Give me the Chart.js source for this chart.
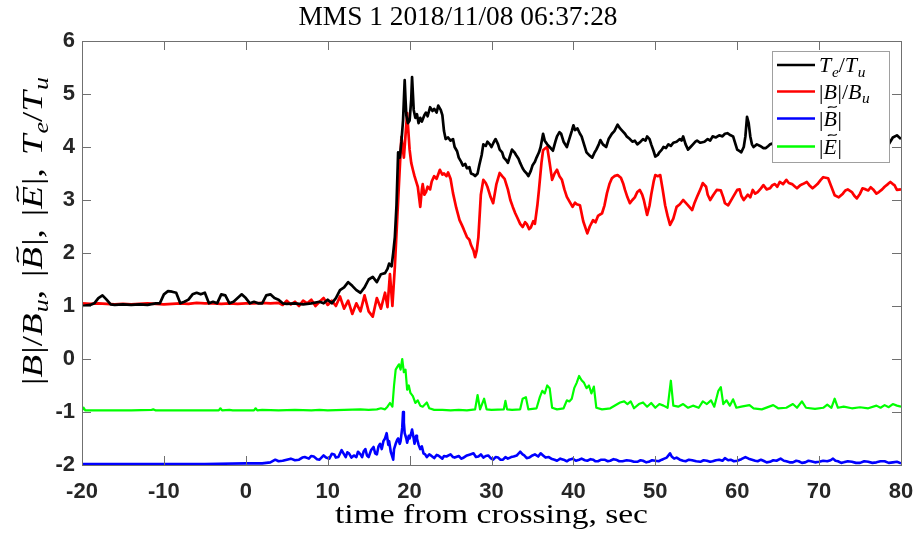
<!DOCTYPE html>
<html>
<head>
<meta charset="utf-8">
<script src="https://cdn.jsdelivr.net/npm/chart.js@4/dist/chart.umd.min.js"></script>
<style>
  html, body { margin: 0; padding: 0; background: #fff; }
  #wrap { width: 916px; height: 539px; }
</style>
</head>
<body>
<div id="wrap"><canvas id="c" width="916" height="539"></canvas></div>
<script>
// ---- data: [time from crossing (s), value] ----
const teSamples = [
  [-20,1.0],[-19,1.02],[-18.5,1.05],[-18,1.15],[-17.5,1.2],[-17,1.12],[-16.5,1.03],[-16,1.02],[-15,1.03],[-14,1.02],
  [-13,1.03],[-12,1.02],[-11,1.05],[-10.5,1.05],[-10,1.22],[-9.5,1.28],[-9,1.27],[-8.5,1.25],[-8,1.05],[-7.5,1.08],
  [-7,1.12],[-6.5,1.22],[-6,1.25],[-5.5,1.22],[-5,1.25],[-4.5,1.05],[-4,1.08],[-3.5,1.05],[-3,1.22],[-2.5,1.2],
  [-2,1.05],[-1.5,1.08],[-1,1.15],[-0.5,1.22],[0,1.15],[0.5,1.05],[1,1.08],[1.5,1.05],[2,1.05],[2.5,1.2],
  [3,1.22],[3.5,1.15],[4,1.12],[4.5,1.05],[5,1.04],[6,1.05],[7,1.03],[8,1.05],[9,1.08],[9.5,1.05],
  [10,1.12],[10.5,1.05],[11,1.15],[11.5,1.3],[12,1.35],[12.5,1.45],[13,1.38],[13.5,1.3],[14,1.25],[14.5,1.35],
  [15,1.5],[15.5,1.55],[16,1.45],[16.5,1.6],[17,1.62],[17.3,1.7],[17.5,1.8],[17.8,1.75],[18,2.0],[18.2,2.3],
  [18.4,2.9],[18.6,3.9],[18.8,3.8],[19.0,4.1],[19.2,4.5],[19.4,5.26],[19.5,4.9],[19.6,4.6],[19.8,4.45],[20.0,4.5],
  [20.2,4.9],[20.3,5.32],[20.5,4.7],[20.7,4.55],[20.9,4.62],[21.1,4.45],[21.3,4.55],[21.5,4.48],[21.8,4.6],[22,4.65],
  [22.2,4.58],[22.5,4.75],[22.8,4.68],[23,4.72],[23.3,4.65],[23.5,4.78],[23.8,4.7],[24,4.6],[24.2,4.3],[24.4,4.15],
  [24.7,4.18],[25,4.12],[25.3,4.15],[25.5,4.0],[25.8,3.92],[26,3.8],[26.3,3.72],[26.5,3.65],[26.8,3.68],[27,3.6],
  [27.3,3.62],[27.5,3.5],[27.8,3.48],[28,3.45],[28.3,3.5],[28.5,3.65],[28.8,3.85],[29,4.05],[29.3,4.02],[29.5,4.1],
  [29.8,4.05],[30,4.0],[30.3,4.1],[30.5,4.15],[30.8,4.05],[31,3.95],[31.3,3.9],[31.5,3.8],[31.8,3.75],[32,3.7],
  [32.3,3.85],[32.5,3.95],[32.8,3.9],[33,3.85],[33.3,3.78],[33.5,3.7],[33.8,3.6],[34,3.55],[34.3,3.5],[34.5,3.45],
  [34.8,3.55],[35,3.65],[35.3,3.72],[35.5,3.8],[35.8,3.9],[36,4.0],[36.3,4.25],[36.5,4.12],[36.8,4.05],[37.1,4.0],
  [37.5,3.93],[37.8,4.1],[38,4.2],[38.3,4.28],[38.5,4.25],[38.8,4.1],[39.2,4.0],[39.4,4.1],[39.6,4.2],[39.8,4.3],
  [40,4.41],[40.2,4.32],[40.5,4.35],[40.8,4.25],[41,4.2],[41.3,4.05],[41.6,3.9],[41.9,3.85],[42.3,3.8],[42.6,3.9],
  [42.8,3.95],[43.1,4.05],[43.3,4.13],[43.6,4.05],[44,4.0],[44.3,4.15],[44.7,4.25],[45,4.3],[45.4,4.42],[45.7,4.35],
  [46,4.3],[46.3,4.25],[46.5,4.2],[46.9,4.15],[47.2,4.1],[47.5,4.12],[47.8,4.05],[48.2,4.1],[48.5,4.15],[48.8,4.12],
  [49,4.2],[49.3,4.15],[49.5,4.05],[49.8,3.92],[50,3.82],[50.3,3.85],[50.5,3.9],[50.8,3.95],[51,4.0],[51.3,3.98],
  [51.6,4.05],[51.9,4.02],[52.2,4.08],[52.6,4.1],[53,4.15],[53.2,4.12],[53.4,4.2],[53.7,4.05],[54,3.95],[54.3,4.0],
  [54.6,4.05],[54.9,4.1],[55.1,4.12],[55.5,4.08],[56,4.1],[56.4,4.15],[56.7,4.12],[57,4.2],[57.4,4.18],[57.8,4.22],
  [58.2,4.2],[58.5,4.25],[58.8,4.26],[59.2,4.22],[59.5,4.2],[59.8,4.05],[60,3.95],[60.3,3.92],[60.5,3.9],[60.8,4.0],
  [61,4.2],[61.2,4.57],[61.4,4.45],[61.6,4.2],[61.8,4.05],[62,4.0],[62.4,4.05],[62.8,4.02],[63.2,3.98],[63.5,3.98],
  [63.8,4.02],[64,4.05],[65,4.1],[66.5,4.2],[68,4.15],[69.5,4.25],[71,4.2],[72.5,4.1],[74,4.2],[75.5,4.15],
  [77,4.1],[78.5,4.05],[79,4.18],[79.5,4.22],[80,4.15]
];
const bSamples = [
  [-20,1.05],[-19,1.04],[-18,1.05],[-17,1.04],[-16,1.03],[-15,1.04],[-14,1.03],[-13,1.04],[-12,1.05],[-11,1.04],
  [-10,1.03],[-9,1.04],[-8,1.05],[-7,1.04],[-6,1.06],[-5,1.05],[-4,1.05],[-3,1.04],[-2,1.05],[-1,1.04],
  [0,1.05],[1,1.05],[2,1.06],[3,1.05],[4,1.06],[4.5,1.02],[5,1.1],[5.5,1.03],[6,1.08],[6.5,1.0],
  [7,1.1],[7.5,1.05],[8,1.12],[8.5,1.0],[9,1.08],[9.5,1.15],[10,1.02],[10.5,1.1],[11,1.0],[11.5,1.18],
  [12,0.95],[12.5,1.1],[13,0.85],[13.5,1.05],[14,0.9],[14.5,1.2],[15,0.9],[15.5,0.8],[16,1.15],[16.5,0.95],
  [17,1.25],[17.3,0.98],[17.6,1.6],[17.9,1.0],[18.2,1.74],[18.5,2.68],[18.8,3.6],[19.0,4.19],[19.3,3.8],[19.7,4.64],
  [20.0,3.95],[20.2,3.7],[20.4,3.57],[20.6,3.45],[20.9,3.3],[21.0,3.25],[21.2,3.0],[21.3,2.87],[21.5,3.2],[21.6,3.3],
  [21.8,3.1],[22.0,3.15],[22.2,3.25],[22.5,3.2],[22.7,3.35],[23,3.45],[23.3,3.4],[23.7,3.57],[24,3.48],[24.2,3.5],
  [24.5,3.45],[24.7,3.52],[25,3.4],[25.3,3.13],[25.7,2.85],[26.1,2.62],[26.4,2.52],[26.6,2.45],[27,2.3],[27.3,2.25],
  [27.5,2.15],[27.8,2.05],[28,1.92],[28.2,2.05],[28.4,2.3],[28.7,3.1],[29,3.38],[29.3,3.32],[29.5,3.25],[29.9,3.05],
  [30.2,2.94],[30.6,3.3],[31,3.51],[31.3,3.45],[31.6,3.4],[32,3.2],[32.3,3.0],[32.6,2.87],[32.9,2.75],[33.2,2.65],
  [33.5,2.55],[33.8,2.49],[34.1,2.58],[34.3,2.55],[34.6,2.45],[34.8,2.48],[35.1,2.6],[35.3,2.55],[35.6,2.9],[35.8,3.2],
  [36.1,3.7],[36.3,3.94],[36.6,3.98],[36.8,4.0],[37.1,3.7],[37.4,3.38],[37.7,3.5],[38,3.57],[38.3,3.45],[38.6,3.38],
  [38.9,3.2],[39.2,3.06],[39.6,2.95],[39.9,2.87],[40.2,2.95],[40.4,2.92],[40.8,2.9],[41.2,2.6],[41.7,2.37],[42,2.5],
  [42.4,2.62],[42.7,2.58],[43,2.7],[43.5,2.75],[43.8,2.9],[44.1,3.13],[44.4,3.3],[44.7,3.41],[45,3.45],[45.4,3.47],
  [45.8,3.42],[46.1,3.3],[46.3,3.19],[46.6,3.05],[46.9,2.94],[47.2,3.0],[47.5,3.05],[47.8,3.15],[48.1,3.19],[48.4,3.1],
  [48.6,3.0],[49,2.72],[49.3,2.9],[49.5,3.1],[49.8,3.35],[50,3.47],[50.3,3.45],[50.6,3.47],[50.9,3.2],[51.2,2.9],
  [51.5,2.7],[51.8,2.53],[52.2,2.65],[52.6,2.87],[53,2.92],[53.4,3.0],[53.7,2.95],[54,2.9],[54.5,2.81],[54.8,2.95],
  [55.1,3.06],[55.5,3.2],[55.8,3.32],[56.2,3.25],[56.4,3.1],[56.7,3.0],[57.1,3.1],[57.5,3.19],[58,3.18],[58.3,3.05],
  [58.5,2.94],[58.9,2.9],[59.2,2.98],[59.5,3.06],[60,3.19],[60.3,3.2],[60.5,3.08],[60.8,3.0],[61.3,3.1],[61.6,3.05],
  [61.9,3.19],[62.2,3.12],[62.5,3.15],[62.9,3.22],[63.2,3.28],[63.6,3.2],[64,3.22],[64.3,3.28],[64.6,3.3],[64.9,3.25],
  [65.2,3.34],[65.6,3.3],[66,3.38],[66.3,3.32],[66.7,3.3],[67,3.26],[67.3,3.22],[67.7,3.28],[68,3.3],[68.5,3.34],
  [68.8,3.28],[69.2,3.22],[69.5,3.26],[69.8,3.3],[70.2,3.38],[70.5,3.43],[71.1,3.41],[71.5,3.25],[71.9,3.09],[72.4,3.05],
  [72.9,3.12],[73.2,3.18],[73.5,3.2],[74,3.15],[74.3,3.08],[74.6,3.03],[75,3.12],[75.3,3.22],[75.7,3.2],[76,3.18],
  [76.3,3.24],[76.6,3.2],[77,3.12],[77.3,3.15],[77.7,3.2],[78,3.25],[78.4,3.3],[78.7,3.34],[79,3.3],[79.2,3.28],
  [79.5,3.19],[80,3.2]
];
const bFluctSamples = [
  [-20,-1.98],[-15,-1.98],[-10,-1.98],[-5,-1.98],[0,-1.97],[2,-1.97],[3,-1.95],[3.6,-1.9],[4,-1.93],[4.5,-1.92],
  [5,-1.9],[5.5,-1.88],[6,-1.91],[6.5,-1.9],[6.9,-1.86],[7.2,-1.85],[7.7,-1.88],[8,-1.83],[8.3,-1.84],[8.7,-1.89],
  [9,-1.9],[9.5,-1.82],[9.8,-1.86],[10.2,-1.88],[10.5,-1.79],[10.8,-1.8],[11,-1.86],[11.3,-1.85],[11.7,-1.72],[12,-1.8],
  [12.2,-1.85],[12.4,-1.76],[12.6,-1.78],[12.9,-1.86],[13.2,-1.82],[13.5,-1.85],[13.7,-1.75],[14,-1.8],[14.2,-1.85],[14.4,-1.74],
  [14.6,-1.7],[14.8,-1.82],[15,-1.85],[15.3,-1.72],[15.6,-1.66],[15.8,-1.78],[16,-1.8],[16.2,-1.65],[16.4,-1.6],[16.6,-1.7],
  [16.8,-1.55],[17,-1.5],[17.2,-1.4],[17.4,-1.62],[17.5,-1.55],[17.7,-1.75],[17.8,-1.8],[18.0,-1.9],[18.1,-1.7],[18.3,-1.6],
  [18.5,-1.52],[18.6,-1.5],[18.8,-1.6],[18.9,-1.55],[19.1,-1.3],[19.2,-1.0],[19.3,-1.2],[19.4,-1.4],[19.6,-1.5],[19.7,-1.58],
  [19.9,-1.45],[20.0,-1.5],[20.2,-1.4],[20.3,-1.33],[20.5,-1.5],[20.6,-1.6],[20.8,-1.45],[20.9,-1.5],[21.1,-1.62],[21.3,-1.7],
  [21.5,-1.65],[21.7,-1.78],[21.9,-1.8],[22.1,-1.85],[22.4,-1.8],[22.6,-1.82],[23,-1.87],[23.3,-1.81],[23.5,-1.82],[24,-1.88],
  [24.2,-1.83],[24.5,-1.84],[25,-1.8],[25.3,-1.85],[25.5,-1.86],[26,-1.83],[26.3,-1.88],[26.5,-1.87],[27,-1.82],[27.4,-1.8],
  [27.8,-1.78],[28.1,-1.85],[28.4,-1.84],[28.7,-1.8],[29,-1.86],[29.3,-1.83],[29.6,-1.82],[29.9,-1.87],[30.2,-1.9],[30.5,-1.85],
  [30.8,-1.86],[31.1,-1.9],[31.4,-1.9],[31.7,-1.85],[32,-1.88],[32.4,-1.85],[32.7,-1.84],[33.1,-1.82],[33.5,-1.75],[33.8,-1.8],
  [34,-1.82],[34.3,-1.87],[34.6,-1.86],[35,-1.82],[35.3,-1.8],[35.7,-1.84],[36,-1.78],[36.3,-1.82],[36.6,-1.86],[37,-1.85],
  [37.3,-1.88],[37.7,-1.9],[38,-1.92],[38.4,-1.88],[38.8,-1.9],[39.2,-1.93],[39.5,-1.9],[39.9,-1.88],[40.3,-1.92],[40.7,-1.9],
  [41,-1.88],[41.4,-1.91],[41.7,-1.92],[42.1,-1.89],[42.4,-1.9],[42.7,-1.93],[43,-1.93],[43.4,-1.9],[43.8,-1.9],[44.2,-1.93],
  [44.5,-1.92],[44.9,-1.89],[45.2,-1.9],[45.6,-1.93],[46,-1.93],[46.5,-1.91],[47,-1.92],[47.4,-1.94],[47.8,-1.94],[48.2,-1.91],
  [48.5,-1.92],[48.9,-1.95],[49.2,-1.94],[49.6,-1.91],[50,-1.92],[50.4,-1.93],[50.8,-1.9],[51.1,-1.88],[51.4,-1.86],[51.8,-1.78],
  [52,-1.84],[52.3,-1.88],[52.6,-1.86],[53,-1.9],[53.4,-1.92],[53.7,-1.93],[54.1,-1.9],[54.5,-1.91],[55,-1.93],[55.5,-1.94],
  [55.9,-1.91],[56.3,-1.92],[56.7,-1.94],[57,-1.93],[57.4,-1.91],[57.8,-1.9],[58.2,-1.92],[58.5,-1.87],[58.9,-1.91],[59.2,-1.9],
  [59.6,-1.93],[60,-1.92],[60.5,-1.89],[61,-1.85],[61.4,-1.88],[61.8,-1.9],[62.2,-1.92],[62.5,-1.93],[62.9,-1.9],[63.2,-1.92],
  [63.6,-1.95],[64,-1.94],[64.4,-1.91],[64.8,-1.92],[65.3,-1.88],[65.7,-1.92],[66,-1.93],[66.4,-1.95],[66.8,-1.95],[67.2,-1.92],
  [67.5,-1.93],[67.9,-1.96],[68.3,-1.95],[68.7,-1.92],[69,-1.93],[69.5,-1.95],[70,-1.94],[70.5,-1.92],[71,-1.93],[71.4,-1.91],
  [71.7,-1.88],[72,-1.92],[72.3,-1.93],[72.7,-1.96],[73,-1.95],[73.5,-1.93],[74,-1.94],[74.5,-1.96],[75,-1.96],[75.5,-1.93],
  [76,-1.94],[76.5,-1.96],[77,-1.95],[77.5,-1.93],[78,-1.93],[78.5,-1.96],[79,-1.95],[79.5,-1.94],[80,-1.97]
];
const eFluctSamples = [
  [-20,-0.97],[-19.8,-0.92],[-19.6,-0.97],[-17,-0.97],[-14,-0.97],[-11.5,-0.96],[-11.3,-0.95],[-11,-0.97],[-8,-0.97],[-5,-0.97],
  [-3.3,-0.97],[-3.1,-0.93],[-2.9,-0.97],[-2,-0.96],[-1.6,-0.97],[1,-0.97],[1.2,-0.93],[1.4,-0.97],[2,-0.96],[4,-0.97],
  [6,-0.96],[8,-0.97],[9,-0.96],[10,-0.97],[12,-0.96],[14,-0.95],[15,-0.96],[16,-0.95],[16.5,-0.93],[17,-0.95],
  [17.3,-0.9],[17.6,-0.83],[17.9,-0.9],[18.1,-0.5],[18.3,-0.2],[18.5,-0.15],[18.7,-0.1],[18.9,-0.2],[19.1,0.0],[19.3,-0.25],
  [19.5,-0.2],[19.7,-0.58],[19.9,-0.5],[20.1,-0.64],[20.4,-0.7],[20.7,-0.83],[21,-0.78],[21.3,-0.88],[21.6,-0.9],[22.1,-0.82],
  [22.4,-0.93],[23,-0.96],[24,-0.96],[25,-0.97],[26,-0.96],[27,-0.97],[28,-0.95],[28.3,-0.68],[28.6,-0.95],[29.1,-0.75],
  [29.4,-0.95],[30,-0.96],[31.5,-0.95],[31.7,-0.79],[31.9,-0.95],[32.5,-0.96],[33.5,-0.95],[33.8,-0.75],[34.2,-0.72],[34.5,-0.95],
  [35.5,-0.93],[35.9,-0.72],[36.2,-0.6],[36.5,-0.65],[36.8,-0.5],[37.1,-0.55],[37.4,-0.92],[38,-0.95],[38.8,-0.93],[39.2,-0.78],
  [39.5,-0.8],[39.8,-0.75],[40.1,-0.55],[40.4,-0.45],[40.7,-0.32],[41,-0.4],[41.3,-0.45],[41.6,-0.55],[41.9,-0.5],[42.2,-0.65],
  [42.5,-0.52],[42.8,-0.92],[43.5,-0.95],[44.5,-0.93],[45.7,-0.82],[46.2,-0.8],[46.6,-0.85],[47,-0.8],[47.4,-0.93],[48,-0.85],
  [48.5,-0.82],[49,-0.9],[49.5,-0.83],[50,-0.92],[50.5,-0.85],[51,-0.88],[51.5,-0.92],[51.9,-0.41],[52.2,-0.88],[52.8,-0.9],
  [53.4,-0.85],[54,-0.92],[54.6,-0.88],[55.3,-0.92],[55.8,-0.8],[56.3,-0.85],[56.8,-0.78],[57.2,-0.9],[57.7,-0.6],[58,-0.53],
  [58.3,-0.85],[58.7,-0.78],[59.1,-0.88],[59.5,-0.76],[59.9,-0.92],[60.5,-0.9],[61.5,-0.87],[62,-0.93],[63,-0.95],[64.4,-0.87],
  [65,-0.93],[66,-0.92],[66.8,-0.85],[67.3,-0.92],[67.9,-0.8],[68.4,-0.92],[69.5,-0.94],[70.5,-0.92],[71,-0.86],[71.5,-0.92],
  [71.9,-0.75],[72.3,-0.92],[73,-0.9],[74,-0.93],[75,-0.91],[76,-0.93],[77,-0.88],[77.5,-0.92],[78,-0.87],[78.5,-0.91],
  [79,-0.85],[79.5,-0.88],[80,-0.9]
];

const xTickValues = [-20, -10, 0, 10, 20, 30, 40, 50, 60, 70, 80];
const yTickValues = [-2, -1, 0, 1, 2, 3, 4, 5, 6];

const titleText = 'MMS 1 2018/11/08 06:37:28';
const xTitleText = 'time from crossing, sec';

// math-style label pieces: it = italic, sub = subscript, tilde = accent, gap = extra space after (em)
const lblTe = [{s:'T',it:1},{s:'e',it:1,sub:1},{s:'/'},{s:'T',it:1},{s:'u',it:1,sub:1}];
const lblB  = [{s:'|'},{s:'B',it:1},{s:'|'},{s:'/'},{s:'B',it:1},{s:'u',it:1,sub:1}];
const lblBt = [{s:'|'},{s:'B',it:1,tilde:1},{s:'|'}];
const lblEt = [{s:'|'},{s:'E',it:1,tilde:1},{s:'|'}];
const comma = {s:',', gap:0.35};
const yTitlePieces = [...lblB, comma, ...lblBt, comma, ...lblEt, comma, ...lblTe];

const series = [
  { label: lblTe, samples: teSamples,     color: '#000000', width: 2.7 },
  { label: lblB,  samples: bSamples,      color: '#ff0000', width: 2.7 },
  { label: lblBt, samples: bFluctSamples, color: '#0000ff', width: 2.6 },
  { label: lblEt, samples: eFluctSamples, color: '#00ff00', width: 2.2 }
];

const SERIF = '"Liberation Serif", "Times New Roman", serif';
const AXIS_COLOR = '#262626';
const FRAME_COLOR = '#707070';

function layoutMath(ctx, pieces, size) {
  let w = 0;
  const items = [];
  for (const p of pieces) {
    const fs = p.sub ? size * 0.7 : size;
    const font = (p.it ? 'italic ' : '') + fs + 'px ' + SERIF;
    ctx.font = font;
    const m = ctx.measureText(p.s).width;
    items.push({ p, font, x: w, w: m, dy: p.sub ? size * 0.22 : 0 });
    w += m + (p.gap || 0) * size + (p.it && !p.sub ? size * 0.03 : 0);
  }
  return { items, width: w };
}

// draws pieces with left edge at x (or centered if center=true), baseline at y
function drawMath(ctx, pieces, x, y, size, opts) {
  opts = opts || {};
  const L = layoutMath(ctx, pieces, size);
  const sx = opts.targetWidth ? opts.targetWidth / L.width : 1;
  const left = opts.center ? x - L.width * sx / 2 : x;
  ctx.save();
  ctx.translate(left, y);
  ctx.scale(sx, 1);
  ctx.fillStyle = opts.color || '#000';
  ctx.strokeStyle = opts.color || '#000';
  ctx.textBaseline = 'alphabetic';
  ctx.textAlign = 'left';
  for (const it of L.items) {
    ctx.font = it.font;
    ctx.fillText(it.p.s, it.x, it.dy);
    if (it.p.tilde) {
      const cx = it.x + it.w / 2 + size * 0.1;
      const ty = -size * 0.84;
      const a = size * 0.2, h = size * 0.07;
      ctx.beginPath();
      ctx.moveTo(cx - a, ty + h * 0.6);
      ctx.bezierCurveTo(cx - a * 0.5, ty - h * 1.6, cx + a * 0.5, ty + h * 1.6, cx + a, ty - h * 0.6);
      ctx.lineWidth = size * 0.055;
      ctx.stroke();
    }
  }
  ctx.restore();
}

function drawStretched(ctx, text, cx, cy, font, targetWidth) {
  ctx.save();
  ctx.font = font;
  const w = ctx.measureText(text).width;
  const sx = targetWidth / w;
  ctx.translate(cx, cy);
  ctx.scale(sx, 1);
  ctx.fillStyle = '#000';
  ctx.textAlign = 'center';
  ctx.textBaseline = 'middle';
  ctx.fillText(text, 0, 0);
  ctx.restore();
}

const decorPlugin = {
  id: 'decor',
  afterDatasetsDraw(chart) {
    const { ctx, chartArea: a } = chart;
    // legend box
    const lx = 772, ly = 51, lw = 117, lh = 111;
    ctx.save();
    ctx.fillStyle = '#fff';
    ctx.fillRect(lx, ly, lw, lh);
    ctx.strokeStyle = '#a0a0a0';
    ctx.lineWidth = 1;
    ctx.strokeRect(lx + 0.5, ly + 0.5, lw, lh);
    const rows = [65, 91.5, 118.5, 146.5];
    series.forEach((s, i) => {
      ctx.beginPath();
      ctx.moveTo(777, rows[i]);
      ctx.lineTo(815, rows[i]);
      ctx.strokeStyle = s.color;
      ctx.lineWidth = 2.4;
      ctx.stroke();
      drawMath(ctx, s.label, 819, rows[i] + 7, 22);
    });
    ctx.restore();

    // frame and inward ticks
    ctx.save();
    ctx.strokeStyle = FRAME_COLOR;
    ctx.lineWidth = 1;
    ctx.strokeRect(Math.round(a.left) + 0.5, Math.round(a.top) + 0.5,
                   Math.round(a.right - a.left), Math.round(a.bottom - a.top));
    const xs = chart.scales.x, ys = chart.scales.y;
    const TL = 9;
    ctx.beginPath();
    xTickValues.forEach(v => {
      const px = Math.round(xs.getPixelForValue(v)) + 0.5;
      ctx.moveTo(px, a.bottom); ctx.lineTo(px, a.bottom - TL);
      ctx.moveTo(px, a.top); ctx.lineTo(px, a.top + TL);
    });
    yTickValues.forEach(v => {
      const py = Math.round(ys.getPixelForValue(v)) + 0.5;
      ctx.moveTo(a.left, py); ctx.lineTo(a.left + TL, py);
      ctx.moveTo(a.right, py); ctx.lineTo(a.right - TL, py);
    });
    ctx.stroke();
    ctx.restore();
  },
  afterDraw(chart) {
    const { ctx, chartArea: a } = chart;
    // title
    drawStretched(ctx, titleText, 458, 18, '27px ' + SERIF, 319);
    // x axis title
    drawStretched(ctx, xTitleText, (a.left + a.right) / 2, 516, '27px ' + SERIF, 313);
    // y axis title, rotated
    ctx.save();
    ctx.translate(42, 231);
    ctx.rotate(-Math.PI / 2);
    drawMath(ctx, yTitlePieces, 0, 0, 29, { center: true, targetWidth: 308 });
    ctx.restore();
  }
};

const tickFont = { family: '"Liberation Sans", Arial, sans-serif', size: 22, weight: 'bold' };

new Chart(document.getElementById('c'), {
  type: 'line',
  data: {
    datasets: series.map(s => ({
      data: s.samples.map(([t, v]) => ({ x: t, y: v })),
      borderColor: s.color,
      borderWidth: s.width,
      pointRadius: 0,
      tension: 0,
      fill: false,
      borderJoinStyle: 'round'
    }))
  },
  options: {
    responsive: false,
    animation: false,
    layout: { padding: { top: 41, right: 15, left: 0, bottom: 0 } },
    plugins: { legend: { display: false }, title: { display: false }, tooltip: { enabled: false } },
    scales: {
      x: {
        type: 'linear', min: -20, max: 80,
        afterBuildTicks: s => { s.ticks = xTickValues.map(v => ({ value: v })); },
        afterFit: s => { s.height = 74; s.paddingLeft = 0; s.paddingRight = 0; },
        grid: { display: false, drawTicks: false },
        border: { display: false },
        ticks: { font: tickFont, color: AXIS_COLOR, padding: 14, maxRotation: 0, autoSkip: false }
      },
      y: {
        type: 'linear', min: -2, max: 6,
        afterBuildTicks: s => { s.ticks = yTickValues.map(v => ({ value: v })); },
        afterFit: s => { s.width = 82; s.paddingTop = 0; s.paddingBottom = 0; },
        grid: { display: false, drawTicks: false },
        border: { display: false },
        ticks: { font: tickFont, color: AXIS_COLOR, padding: 7, autoSkip: false }
      }
    }
  },
  plugins: [decorPlugin]
});
</script>
</body>
</html>
